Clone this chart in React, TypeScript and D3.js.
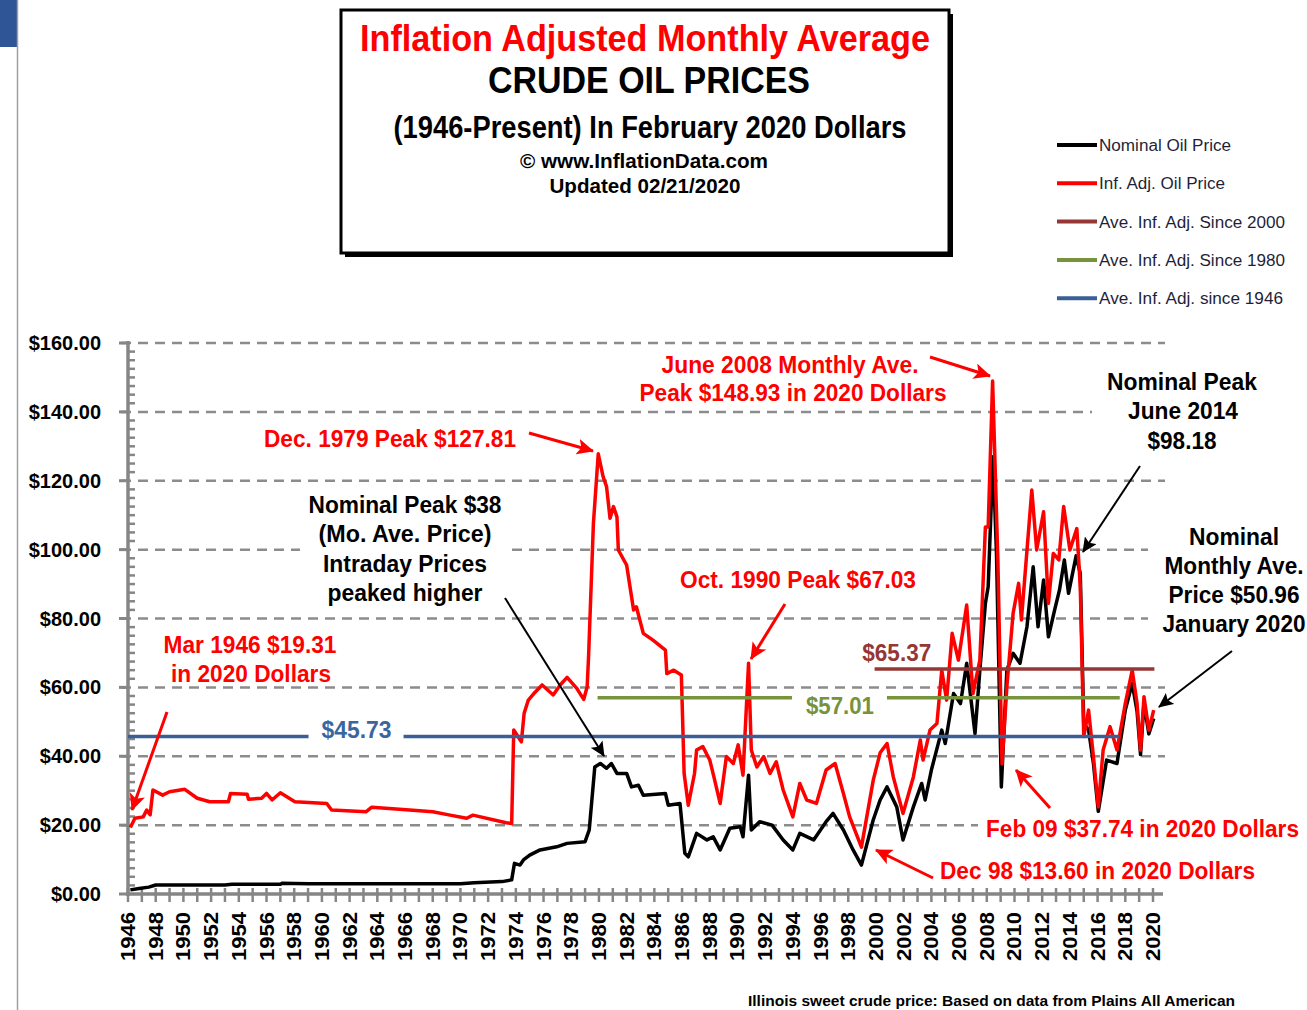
import React from 'react';
import * as d3 from 'd3';

// inflation adjusted monthly average (Feb 2020 dollars)
const infYears = [1946.17, 1946.5, 1947.1, 1947.35, 1947.6, 1947.8, 1948.5, 1949.0, 1950.1, 1951.0, 1951.9, 1953.25, 1953.4, 1954.6, 1954.7, 1955.65, 1956.0, 1956.4, 1957.0, 1958.05, 1960.35, 1960.7, 1963.2, 1963.6, 1965.6, 1968.0, 1969.25, 1970.45, 1970.9, 1973.3, 1973.7, 1973.85, 1974.4, 1974.6, 1974.9, 1975.3, 1975.9, 1976.7, 1977.2, 1977.7, 1978.4, 1978.9, 1979.15, 1979.25, 1979.6, 1979.95, 1980.3, 1980.55, 1980.8, 1981.05, 1981.3, 1981.4, 1982.0, 1982.5, 1982.7, 1983.2, 1983.9, 1984.8, 1984.9, 1985.4, 1985.95, 1986.15, 1986.45, 1986.9, 1987.05, 1987.5, 1988.0, 1988.3, 1988.75, 1989.2, 1989.7, 1990.05, 1990.4, 1990.8, 1991.0, 1991.4, 1991.9, 1992.35, 1992.8, 1993.3, 1994.0, 1994.5, 1995.0, 1995.7, 1996.4, 1997.05, 1997.65, 1998.1, 1998.95, 1999.8, 2000.3, 2000.8, 2001.25, 2001.95, 2002.7, 2003.2, 2003.4, 2003.9, 2004.4, 2004.75, 2005.1, 2005.5, 2005.95, 2006.55, 2007.0, 2007.5, 2007.9, 2008.1, 2008.42, 2008.8, 2009.1, 2009.45, 2009.9, 2010.3, 2010.5, 2011.25, 2011.6, 2012.1, 2012.45, 2012.8, 2013.2, 2013.55, 2014.0, 2014.5, 2014.75, 2015.0, 2015.35, 2015.7, 2016.05, 2016.4, 2016.9, 2017.4, 2018.0, 2018.5, 2018.85, 2019.1, 2019.35, 2019.7, 2020.05];
const infValues = [19.31, 22, 22.4, 24.4, 23, 30.2, 28.7, 29.7, 30.4, 27.8, 26.8, 26.8, 29.2, 29, 27.5, 27.8, 29.2, 27.3, 29.4, 26.8, 26.3, 24.4, 23.9, 25.2, 24.6, 23.9, 22.9, 22.0, 22.9, 20.7, 20.5, 47.6, 44.2, 52.5, 56.3, 58.2, 60.7, 57.8, 60.7, 62.9, 59.7, 56.5, 60.2, 68.9, 107.6, 127.81, 121.2, 118.3, 109.1, 112.5, 109.5, 99.9, 95.5, 82.5, 83.4, 75.7, 73.7, 70.8, 64, 65, 63.6, 35, 25.8, 35, 41.8, 42.8, 38.9, 34, 26.3, 39.9, 37.9, 43.3, 34.5, 67.03, 41.8, 36.9, 39.9, 35, 38.4, 30.2, 22.4, 32.1, 27.3, 26.3, 36, 37.9, 29.2, 22.4, 13.6, 33, 41, 43.7, 34, 23.4, 34, 44.7, 38.9, 47.6, 49.5, 65, 56.3, 75.7, 67.9, 83.9, 58.2, 67.9, 106.6, 106.6, 148.93, 97, 37.74, 60.2, 81.5, 90.2, 79.6, 117.3, 99.9, 111, 84.4, 98.9, 97, 112.5, 99.9, 106.1, 89.2, 45.7, 53.4, 39.8, 25.3, 41.8, 48.6, 41.8, 55.3, 65, 55.3, 41.8, 57.3, 47.6, 53.4];

// nominal monthly average
const nomYears = [1946.17, 1946.8, 1947.5, 1948.0, 1953.0, 1953.5, 1957.0, 1957.1, 1959.0, 1970.0, 1971.0, 1973.0, 1973.7, 1973.9, 1974.3, 1974.55, 1975.0, 1975.75, 1976.95, 1977.7, 1979.0, 1979.3, 1979.7, 1980.1, 1980.55, 1980.9, 1981.3, 1982.0, 1982.35, 1982.85, 1983.2, 1984.8, 1985.0, 1985.85, 1986.2, 1986.45, 1987.05, 1987.8, 1988.25, 1988.75, 1989.45, 1990.2, 1990.4, 1990.8, 1991.0, 1991.6, 1992.5, 1993.3, 1994.0, 1994.5, 1995.5, 1996.4, 1996.9, 1997.65, 1998.35, 1998.95, 1999.8, 2000.3, 2000.8, 2001.5, 2001.95, 2002.7, 2003.3, 2003.55, 2004.0, 2004.75, 2005.0, 2005.6, 2006.1, 2006.55, 2007.15, 2007.5, 2007.9, 2008.1, 2008.45, 2008.7, 2009.05, 2009.45, 2009.9, 2010.4, 2010.9, 2011.35, 2011.7, 2012.1, 2012.45, 2012.9, 2013.25, 2013.6, 2013.9, 2014.45, 2014.75, 2015.0, 2015.35, 2015.7, 2016.05, 2016.65, 2017.4, 2018.0, 2018.5, 2018.85, 2019.1, 2019.35, 2019.7, 2020.05];
const nomValues = [1.2, 1.6, 2.0, 2.6, 2.6, 2.8, 2.8, 3.1, 3.0, 3.0, 3.3, 3.6, 4.1, 8.9, 8.4, 9.9, 11.3, 12.8, 13.7, 14.7, 15.2, 18.6, 36.9, 37.9, 36.5, 37.9, 35, 35, 31.1, 31.6, 28.7, 29.2, 25.8, 26.3, 11.8, 10.8, 17.6, 15.7, 16.6, 12.8, 19.1, 19.5, 16.6, 34.5, 18.6, 21, 20, 15.7, 12.8, 17.6, 15.7, 21, 23.4, 18.6, 12.8, 8.4, 21.5, 27.3, 31.1, 25.3, 15.7, 25.3, 32.1, 27.3, 36, 47.6, 43.7, 58.2, 55.3, 67, 46.6, 65, 84.4, 89.2, 127, 98.9, 31.1, 65, 69.9, 67, 77.6, 95, 77.6, 91.2, 74.7, 82.5, 88.3, 97, 87.3, 98.18, 93.1, 49.5, 47.6, 37.9, 24, 38.9, 37.9, 53.4, 61.2, 53, 40.5, 55.5, 46.5, 50.96];

// average lines
const avgValues = [65.37, 57.01, 45.73];
const avgStart = [1999.9, 1979.9, 1946];
const avgEnd = [2020.1, 2017.6, 2017.55];
const avgLabelYear = [2001.5, 1997.4, 1962.5];
const avgColors = ['#953735', '#77933c', '#3a5f96'];
const avgLabelColors = ['#953735', '#76923c', '#3a66a0'];

const yTicks = [0, 20, 40, 60, 80, 100, 120, 140, 160];
const xLabelYears = d3.range(1946, 2021, 2);
const xMinorYears = d3.range(1946, 2021, 1);

const legendLabels = ['Nominal Oil Price', 'Inf. Adj. Oil Price', 'Ave. Inf. Adj. Since 2000', 'Ave. Inf. Adj. Since 1980', 'Ave. Inf. Adj. since 1946'];
const legendColors = ['#000000', '#ff0000', '#953735', '#77933c', '#3a5f96'];
const legendWidths = [132, 126, 186, 186, 184];

const FONT = '"Liberation Sans", Arial, sans-serif';

const T: React.FC<{ x: number; y: number; s: number; fill?: string; len?: number; anchor?: string; w?: any; children: any }> =
  ({ x, y, s, fill = '#000', len, anchor = 'start', w = 'bold', children }) => (
    <text x={x} y={y} fontSize={s} fill={fill} fontWeight={w} fontFamily={FONT} textAnchor={anchor}
      textLength={len} lengthAdjust={len ? 'spacingAndGlyphs' : undefined}>{children}</text>
  );

export default function App() {
  const x = d3.scaleLinear().domain([1946, 2020]).range([128, 1153]);
  const y = d3.scaleLinear().domain([0, 160]).range([894, 343]);

  const path = (years: number[], vals: number[]) =>
    d3.line<number>().x(d => x(d)).y((_, i) => y(vals[i]))(years) as string;

  const gridRight = 1165;
  const minorY = d3.range(0, 160.1, 2.5).filter(v => v % 20 !== 0);

  return (
    <svg width={1307} height={1010} style={{ position: 'absolute', left: 0, top: 0, background: '#fff' }}>
      <defs>
        <marker id="ahR" markerUnits="userSpaceOnUse" markerWidth="18" markerHeight="16" refX="16" refY="8" orient="auto">
          <path d="M0,0 L17,8 L0,16 L4,8 z" fill="#ff0000" />
        </marker>
        <marker id="ahK" markerUnits="userSpaceOnUse" markerWidth="16" markerHeight="14" refX="14" refY="7" orient="auto">
          <path d="M0,0 L15,7 L0,14 L3,7 z" fill="#000" />
        </marker>
      </defs>
      <rect width={1307} height={1010} fill="#fff" />
      {/* left page edge */}
      <rect x={0} y={0} width={17} height={47} fill="#2f5597" />
      <line x1={17.5} y1={0} x2={17.5} y2={1010} stroke="#a0a0a0" strokeWidth={1.5} />

      {/* gridlines */}
      {yTicks.filter(v => v > 0).map(v => (
        <line key={v} x1={121} x2={gridRight} y1={y(v)} y2={y(v)} stroke="#8c8c8c" strokeWidth={2.5} strokeDasharray="10,7" />
      ))}

      {/* white text boxes hiding gridlines */}
      <rect x={300} y={490} width={212} height={115} fill="#fff" />
      <rect x={1092} y={366} width={178} height={90} fill="#fff" />
      <rect x={1148} y={520} width={159} height={120} fill="#fff" />
      <rect x={978} y={812} width={329} height={32} fill="#fff" />
      <rect x={932} y={855} width={330} height={32} fill="#fff" />

      {/* axes */}
      <line x1={128} x2={128} y1={341} y2={896} stroke="#868686" strokeWidth={3.5} />
      {yTicks.map(v => <line key={'yt' + v} x1={119} x2={128} y1={y(v)} y2={y(v)} stroke="#868686" strokeWidth={3} />)}
      {minorY.map(v => <line key={'ym' + v} x1={128} x2={135} y1={y(v)} y2={y(v)} stroke="#868686" strokeWidth={2.5} />)}
      <line x1={126} x2={1163} y1={894} y2={894} stroke="#868686" strokeWidth={3.5} />
      {xMinorYears.map(v => <line key={'xm' + v} x1={x(v)} x2={x(v)} y1={888} y2={902} stroke="#868686" strokeWidth={2.5} />)}
      {yTicks.map(v => (
        <T key={'yl' + v} x={101} y={y(v) + 7} s={20} anchor="end">{'$' + v.toFixed(2)}</T>
      ))}
      {xLabelYears.map(v => (
        <text key={'xl' + v} transform={`translate(${x(v) + 7},${912}) rotate(-90)`} fontSize={20} fontWeight="bold"
          fontFamily={FONT} textAnchor="end" textLength={49} lengthAdjust="spacingAndGlyphs">{v}</text>
      ))}

      {/* data */}
      <path d={path(nomYears, nomValues)} fill="none" stroke="#000" strokeWidth={3.5} strokeLinejoin="round" />
      <path d={path(infYears, infValues)} fill="none" stroke="#ff0000" strokeWidth={3.5} strokeLinejoin="round" />

      {/* average lines */}
      {avgValues.map((v, i) => {
        const gap = i === 0 ? null : [x(avgLabelYear[i]) - 48, x(avgLabelYear[i]) + 47];
        const c = avgColors[i];
        return gap ? (
          <g key={'avg' + i}>
            <line x1={x(avgStart[i])} x2={gap[0]} y1={y(v)} y2={y(v)} stroke={c} strokeWidth={3.5} />
            <line x1={gap[1]} x2={x(avgEnd[i])} y1={y(v)} y2={y(v)} stroke={c} strokeWidth={3.5} />
          </g>
        ) : (
          <line key={'avg' + i} x1={x(avgStart[i])} x2={x(avgEnd[i])} y1={y(v)} y2={y(v)} stroke={c} strokeWidth={3.5} />
        );
      })}
      <T x={x(avgLabelYear[0])} y={y(avgValues[0]) - 8} s={23} fill={avgLabelColors[0]} anchor="middle" len={69}>$65.37</T>
      <T x={x(avgLabelYear[1])} y={y(avgValues[1]) + 16} s={23} fill={avgLabelColors[1]} anchor="middle" len={68}>$57.01</T>
      <T x={x(avgLabelYear[2])} y={y(avgValues[2]) + 1} s={23} fill={avgLabelColors[2]} anchor="middle" len={70}>$45.73</T>

      {/* title box */}
      <rect x={345} y={14} width={608} height={243} fill="#000" />
      <rect x={341} y={10} width={608} height={243} fill="#fff" stroke="#000" strokeWidth={3} />
      <T x={645} y={51} s={36} fill="#ff0000" anchor="middle" len={570}>Inflation Adjusted Monthly Average</T>
      <T x={649} y={93} s={36} anchor="middle" len={322}>CRUDE OIL PRICES</T>
      <T x={650} y={138} s={31} anchor="middle" len={513}>(1946-Present) In February 2020 Dollars</T>
      <T x={644} y={168} s={21} anchor="middle" len={248}>© www.InflationData.com</T>
      <T x={645} y={193} s={21} anchor="middle" len={191}>Updated 02/21/2020</T>

      {/* legend */}
      {legendLabels.map((l, i) => (
        <g key={'lg' + i}>
          <line x1={1057} x2={1097} y1={145 + i * 38.3} y2={145 + i * 38.3} stroke={legendColors[i]} strokeWidth={4} />
          <T x={1099} y={151 + i * 38.3} s={16} fill="#1f1f3a" w="normal" len={legendWidths[i]}>{l}</T>
        </g>
      ))}

      {/* annotations */}
      <T x={250} y={653} s={23} fill="#ff0000" anchor="middle" len={173}>Mar 1946 $19.31</T>
      <T x={251} y={682} s={23} fill="#ff0000" anchor="middle" len={160}>in 2020 Dollars</T>
      <line x1={167} y1={712} x2={132} y2={810} stroke="#ff0000" strokeWidth={3} markerEnd="url(#ahR)" />

      <T x={264} y={447} s={23} fill="#ff0000" len={252}>Dec. 1979 Peak $127.81</T>
      <line x1={529} y1={433} x2={593} y2={451} stroke="#ff0000" strokeWidth={3} markerEnd="url(#ahR)" />

      <T x={405} y={513} s={23} anchor="middle" len={193}>Nominal Peak $38</T>
      <T x={405} y={542} s={23} anchor="middle" len={173}>(Mo. Ave. Price)</T>
      <T x={405} y={572} s={23} anchor="middle" len={164}>Intraday Prices</T>
      <T x={405} y={601} s={23} anchor="middle" len={155}>peaked higher</T>
      <line x1={505} y1={598} x2={604} y2={756} stroke="#000" strokeWidth={2} markerEnd="url(#ahK)" />

      <T x={790} y={373} s={23} fill="#ff0000" anchor="middle" len={257}>June 2008 Monthly Ave.</T>
      <T x={793} y={401} s={23} fill="#ff0000" anchor="middle" len={307}>Peak $148.93 in 2020 Dollars</T>
      <line x1={930} y1={357} x2={990} y2={376} stroke="#ff0000" strokeWidth={3} markerEnd="url(#ahR)" />

      <T x={680} y={588} s={23} fill="#ff0000" len={236}>Oct. 1990 Peak $67.03</T>
      <line x1={785} y1={604} x2={751} y2={659} stroke="#ff0000" strokeWidth={3} markerEnd="url(#ahR)" />

      <T x={1182} y={390} s={23} anchor="middle" len={150}>Nominal Peak</T>
      <T x={1183} y={419} s={23} anchor="middle" len={110}>June 2014</T>
      <T x={1182} y={449} s={23} anchor="middle" len={69}>$98.18</T>
      <line x1={1140} y1={466} x2={1083} y2={552} stroke="#000" strokeWidth={2} markerEnd="url(#ahK)" />

      <T x={1234} y={545} s={23} anchor="middle" len={90}>Nominal</T>
      <T x={1234} y={574} s={23} anchor="middle" len={139}>Monthly Ave.</T>
      <T x={1234} y={603} s={23} anchor="middle" len={131}>Price $50.96</T>
      <T x={1234} y={632} s={23} anchor="middle" len={143}>January 2020</T>
      <line x1={1232} y1={651} x2={1159} y2={707} stroke="#000" strokeWidth={2} markerEnd="url(#ahK)" />

      <T x={986} y={837} s={23} fill="#ff0000" len={313}>Feb 09 $37.74 in 2020 Dollars</T>
      <line x1={1050} y1={808} x2={1016} y2={770} stroke="#ff0000" strokeWidth={3} markerEnd="url(#ahR)" />

      <T x={940} y={879} s={23} fill="#ff0000" len={315}>Dec 98 $13.60 in 2020 Dollars</T>
      <line x1={933} y1={878} x2={876} y2={850} stroke="#ff0000" strokeWidth={3} markerEnd="url(#ahR)" />

      {/* footer */}
      <T x={748} y={1006} s={15} len={487}>Illinois sweet crude price: Based on data from Plains All American</T>
    </svg>
  );
}
